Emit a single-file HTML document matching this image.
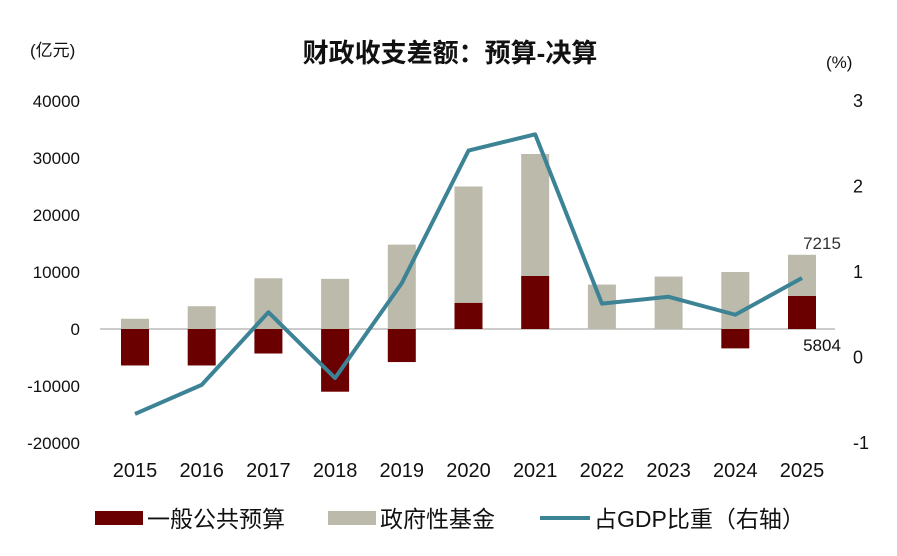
<!DOCTYPE html>
<html><head><meta charset="utf-8">
<style>
body{margin:0;background:#fff;font-family:"Liberation Sans","Noto Sans CJK SC",sans-serif;}
svg text{font-family:"Liberation Sans","Noto Sans CJK SC",sans-serif;}
</style></head>
<body>
<svg id="chart" width="897" height="551">
<text x="450" y="62" text-anchor="middle" font-size="26" font-weight="bold" fill="#111">财政收支差额：预算-决算</text>
<text x="30" y="56" font-size="17" fill="#111">(亿元)</text>
<text x="826" y="68" font-size="17" fill="#111">(%)</text>
<g id="axes"></g><g id="bars"></g><g id="line"></g><g id="labels"></g>
<g>
<rect x="95" y="511" width="48" height="14" fill="#6b0000"/>
<text x="147" y="527" font-size="23" fill="#111">一般公共预算</text>
<rect x="328" y="511" width="48" height="14" fill="#bcbaaa"/>
<text x="380" y="527" font-size="23" fill="#111">政府性基金</text>
<line x1="540" y1="518" x2="590" y2="518" stroke="#3d8396" stroke-width="4"/>
<text x="594" y="527" font-size="23" fill="#111">占GDP比重（右轴）</text>
</g>
</svg>
<script>
const years=["2015","2016","2017","2018","2019","2020","2021","2022","2023","2024","2025"];
const generalBudget=[-6400,-6400,-4300,-11000,-5800,4600,9300,0,0,-3400,5804];
const govFund=[1800,4000,8900,8800,14800,20400,21400,7800,9200,10000,7215];
const gdpShare=[-0.66,-0.32,0.53,-0.24,0.87,2.42,2.61,0.63,0.71,0.50,0.93];
const leftTicks=[40000,30000,20000,10000,0,-10000,-20000];
const rightTicks=[3,2,1,0,-1];
const NS="http://www.w3.org/2000/svg";
function yL(v){return 329-v*228/40000;}
function yR(v){return 357.5-v*85.5;}
function xC(i){return 135+i*66.7;}
function mk(t,a,p){const e=document.createElementNS(NS,t);for(const k in a)e.setAttribute(k,a[k]);p.appendChild(e);return e;}
const axes=document.getElementById('axes'),bars=document.getElementById('bars'),line=document.getElementById('line'),labels=document.getElementById('labels');
leftTicks.forEach(v=>{const t=mk('text',{x:80,y:yL(v)+6,'text-anchor':'end','font-size':17,fill:'#111'},axes);t.textContent=v;

});
rightTicks.forEach(v=>{const t=mk('text',{x:853,y:yR(v)+6,'font-size':18,fill:'#111'},axes);t.textContent=v;

});
years.forEach((y,i)=>{const t=mk('text',{x:xC(i),y:477,'text-anchor':'middle','font-size':20,fill:'#111'},axes);t.textContent=y;

});
const w=28;
years.forEach((y,i)=>{
 const g=generalBudget[i],f=govFund[i];
 if(g!==0){const r=mk('rect',{x:xC(i)-w/2,y:Math.min(yL(0),yL(g)),width:w,height:Math.abs(yL(g)-yL(0)),fill:'#6b0000'},bars);
 
 }
 const base=g>0?g:0;
 const r2=mk('rect',{x:xC(i)-w/2,y:yL(base+f),width:w,height:yL(base)-yL(base+f),fill:'#bcbaaa'},bars);
 
 
});
const ax=mk('line',{x1:100,y1:yL(0),x2:835,y2:yL(0),stroke:'#999','stroke-width':1},axes);


const pl=mk('polyline',{points:gdpShare.map((v,i)=>xC(i)+','+yR(v)).join(' '),fill:'none',stroke:'#3d8396','stroke-width':4,'stroke-linejoin':'round'},line);


const n=years.length-1;
const l1=mk('text',{x:xC(n)+20,y:yL(generalBudget[n]+govFund[n])-6,'text-anchor':'middle','font-size':17,fill:'#333'},labels);l1.textContent=govFund[n];


const l2=mk('text',{x:xC(n)+20,y:yL(0)+22,'text-anchor':'middle','font-size':17,fill:'#111'},labels);l2.textContent=generalBudget[n];


</script>
</body></html>
